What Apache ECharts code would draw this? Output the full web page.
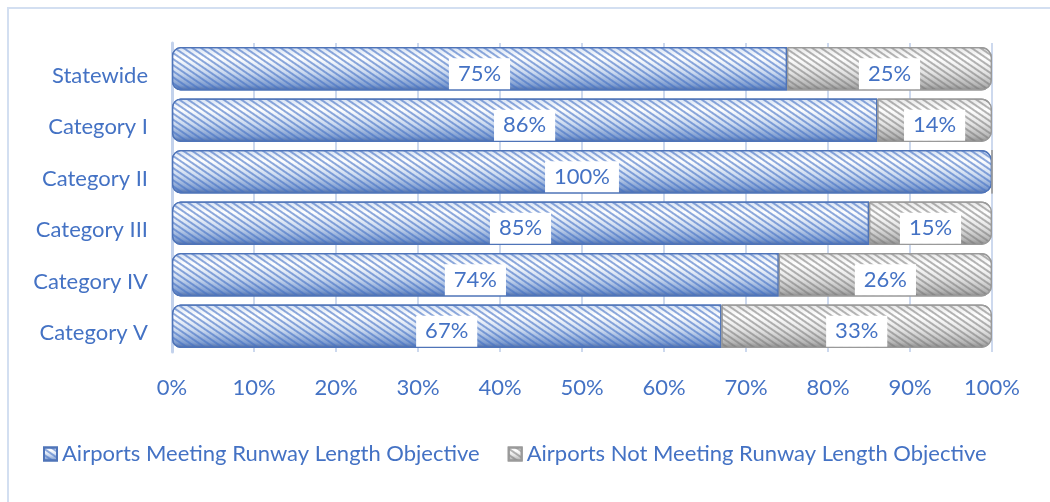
<!DOCTYPE html>
<html><head><meta charset="utf-8">
<script src="https://cdn.jsdelivr.net/npm/echarts@6/dist/echarts.min.js"></script>
<style>html,body{margin:0;padding:0;background:#fff}#c{width:1050px;height:502px}</style>
</head><body><div id="c"></div>
<script>
const categories = ['Statewide','Category I','Category II','Category III','Category IV','Category V'];
const meeting = [75, 86, 100, 85, 74, 67];
const notMeeting = [25, 14, 0, 15, 26, 33];
const seriesNames = ['Airports Meeting Runway Length Objective','Airports Not Meeting Runway Length Objective'];
const xTicks = [0,10,20,30,40,50,60,70,80,90,100];

const txt = '#4472c4';
const font = 'Lato';
const blueFill = {type:'linear',x:0,y:0,x2:0,y2:1,colorStops:[
  {offset:0,color:'#d5e1f3'},{offset:0.25,color:'#ffffff'},{offset:0.6,color:'#c9d8ef'},{offset:0.88,color:'#7f9dd0'},{offset:1,color:'#4a6aa6'}]};
const grayFill = {type:'linear',x:0,y:0,x2:0,y2:1,colorStops:[
  {offset:0,color:'#e6e6e6'},{offset:0.25,color:'#ffffff'},{offset:0.6,color:'#e2e2e2'},{offset:0.88,color:'#b5b5b5'},{offset:1,color:'#8a8a8a'}]};
const decalBlue = {symbol:'rect',symbolSize:1,dashArrayX:[1,0],dashArrayY:[2,3],rotation:0.6,color:'rgba(68,114,196,0.6)'};
const decalGray = {symbol:'rect',symbolSize:1,dashArrayX:[1,0],dashArrayY:[2,3],rotation:0.6,color:'rgba(120,120,120,0.55)'};

const labelCfg = {show:true,position:'inside',formatter:p=>p.value+'%',color:txt,fontFamily:font,fontSize:22,
  backgroundColor:'#fff',padding:[5,9,4,9],offset:[0,5]};

const blueData = meeting.map((v,i)=>({value:v,itemStyle:{borderRadius: notMeeting[i]===0?[8,10,10,8]:[8,0,0,8]}}));
const grayData = notMeeting.map(v=>v===0?{value:v,label:{show:false}}:{value:v,itemStyle:{borderRadius:[0,10,10,0]}});

const chart = echarts.init(document.getElementById('c'));
chart.setOption({
  animation:false,
  aria:{enabled:true,decal:{show:true}},
  graphic:[{type:'rect',shape:{x:8,y:8,width:1060,height:520},style:{fill:'none',stroke:'#d3dff1',lineWidth:2},silent:true}],
  grid:{left:172,right:58,top:43,bottom:150},
  legend:{left:38,top:438,itemGap:28,itemWidth:13,itemHeight:13,icon:'rect',
    textStyle:{color:txt,fontFamily:font,fontSize:22,padding:[0,0,0,0]},data:seriesNames},
  xAxis:{type:'value',min:0,max:100,interval:10,
    axisLabel:{formatter:v=>v+'%',color:txt,fontFamily:font,fontSize:22,margin:25},
    axisLine:{show:false},axisTick:{show:false},
    splitLine:{show:true,lineStyle:{color:'#cdd9ee',width:2}}},
  yAxis:{type:'category',data:categories,inverse:true,
    axisLabel:{color:txt,fontFamily:font,fontSize:22,margin:24,formatter:v=>'{a|'+v+'}',
      rich:{a:{color:txt,fontFamily:font,fontSize:22,padding:[14,0,0,0]}}},
    axisTick:{show:false},
    axisLine:{show:true,lineStyle:{color:'#c3d2ec',width:3}}},
  series:[
    {name:seriesNames[0],type:'bar',stack:'s',barCategoryGap:'16%',data:blueData,
      itemStyle:{color:blueFill,borderColor:'#4f74b8',borderWidth:1.2,decal:decalBlue},label:labelCfg},
    {name:seriesNames[1],type:'bar',stack:'s',data:grayData,
      itemStyle:{color:grayFill,borderColor:'#9a9a9a',borderWidth:1.2,decal:decalGray},label:labelCfg}
  ]
});
</script></body></html>
